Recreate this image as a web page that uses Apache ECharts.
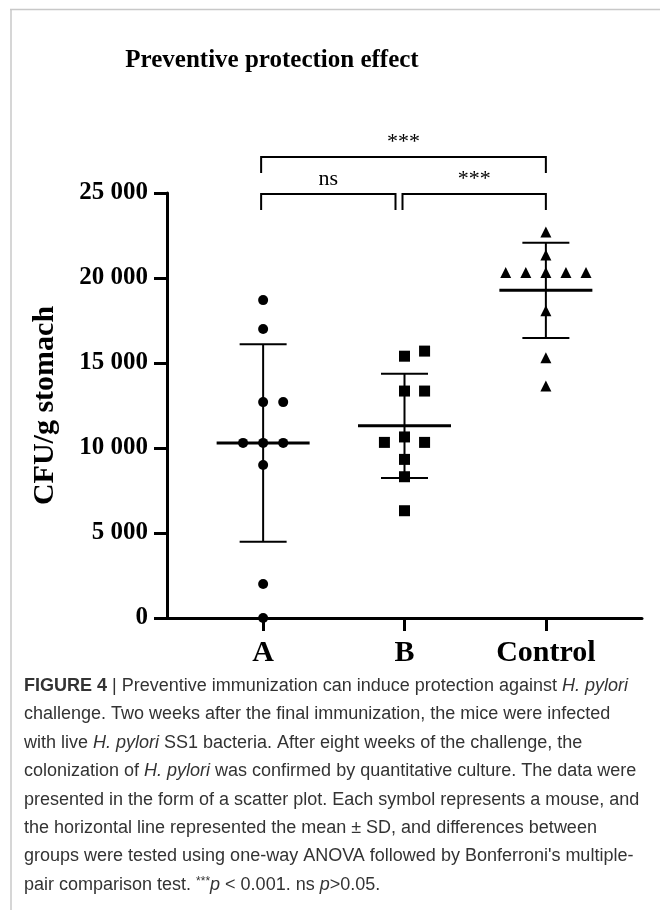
<!DOCTYPE html>
<html>
<head>
<meta charset="utf-8">
<script src="https://cdn.jsdelivr.net/npm/echarts@6/dist/echarts.min.js"></script>
<style>
    html, body { margin: 0; padding: 0; background: #fff; }
    #chart { width: 660px; height: 910px; }
</style>
</head>
<body>
<div id="chart"></div>
<script>
// data
const groups = ["A", "B", "Control"];
const groupA = [18700, 17000, 12700, 12700, 10300, 10300, 10300, 9000, 2000, 0];
const groupB = [15400, 15700, 13350, 13350, 10650, 10330, 10330, 9330, 8310, 6310];
const groupControl = [22700, 21350, 20330, 20330, 20330, 20330, 20330, 18080, 15310, 13650];
const yMin = 0;
const yMax = 25000;
const yStep = 5000;
const brackets = [
    { from: 0, to: 1, label: "ns", row: 0 },
    { from: 1, to: 2, label: "***", row: 0 },
    { from: 0, to: 2, label: "***", row: 1 }
];
const captionLines = [
    "{b|FIGURE 4} | Preventive immunization can induce protection against {i|H. pylori}",
    "challenge. Two weeks after the final immunization, the mice were infected",
    "with live {i|H. pylori} SS1 bacteria. After eight weeks of the challenge, the",
    "colonization of {i|H. pylori} was confirmed by quantitative culture. The data were",
    "presented in the form of a scatter plot. Each symbol represents a mouse, and",
    "the horizontal line represented the mean ± SD, and differences between",
    "groups were tested using one-way ANOVA followed by Bonferroni's multiple-",
    "pair comparison test. {s|***}{i|p} < 0.001. ns {i|p}>0.05."
];

const serif = "Liberation Serif";
const sans = "Liberation Sans";
const jitter = 0.142;

// simple beeswarm: put a point in the first free column of its row
function swarm(values, gi) {
    let placed = [];
    let order = [0, 1, -1, 2, -2, 3, -3];
    return values.map(function(v) {
        let slot = order.find(function(s) {
            return !placed.some(function(p) {
                return p.slot === s && Math.abs(p.v - v) < 600;
            });
        });
        placed.push({ v: v, slot: slot });
        return [gi + slot * jitter, v];
    });
}

function meanSd(values, gi) {
    let n = values.length;
    let m = values.reduce(function(a, b) { return a + b; }, 0) / n;
    let ss = values.reduce(function(a, b) { return a + (b - m) * (b - m); }, 0);
    return [gi, m, Math.sqrt(ss / (n - 1))];
}

function fmt(v) {
    return String(v).replace(/\B(?=(\d{3})+(?!\d))/g, " ");
}

let chart = echarts.init(document.getElementById("chart"));
let allGroups = [groupA, groupB, groupControl];
let symbols = ["circle", "rect", "triangle"];
let sizes = [10, 11, 11];

let series = allGroups.map(function(vals, i) {
    return {
        type: "scatter",
        data: swarm(vals, i),
        symbol: symbols[i],
        symbolSize: sizes[i],
        itemStyle: { color: "#000", opacity: 1 },
        z: 3
    };
});

series.push({
    type: "custom",
    data: allGroups.map(meanSd),
    z: 4,
    renderItem: function(params, api) {
        let x = api.value(0), m = api.value(1), s = api.value(2);
        let c = api.coord([x, m]);
        let top = api.coord([x, m + s])[1];
        let bot = api.coord([x, m - s])[1];
        let st = { stroke: "#000", lineWidth: 2 };
        return {
            type: "group",
            children: [
                { type: "line", shape: { x1: c[0], y1: top, x2: c[0], y2: bot }, style: st },
                { type: "line", shape: { x1: c[0] - 23.5, y1: top, x2: c[0] + 23.5, y2: top }, style: st },
                { type: "line", shape: { x1: c[0] - 23.5, y1: bot, x2: c[0] + 23.5, y2: bot }, style: st },
                { type: "line", shape: { x1: c[0] - 46.5, y1: c[1], x2: c[0] + 46.5, y2: c[1] },
                  style: { stroke: "#000", lineWidth: 3 } }
            ]
        };
    }
});

series.push({
    type: "custom",
    clip: false,
    data: brackets.map(function(b) { return [b.from, b.to, yMax]; }),
    renderItem: function(params, api) {
        let b = brackets[params.dataIndex];
        let y = api.coord([0, yMax])[1] + 1 - b.row * 37;
        let x1 = api.coord([b.from, yMax])[0] - 2;
        let x2 = api.coord([b.to, yMax])[0];
        let shared = brackets.some(function(o) { return o.row === b.row && o.from === b.to; });
        if (shared) x2 -= 9;
        return {
            type: "group",
            children: [
                {
                    type: "polyline",
                    shape: { points: [[x1, y + 16], [x1, y], [x2, y], [x2, y + 16]] },
                    style: { stroke: "#000", lineWidth: 2, fill: null }
                },
                {
                    type: "text",
                    x: (x1 + x2) / 2,
                    y: y - 4,
                    style: {
                        text: b.label,
                        align: "center",
                        verticalAlign: "bottom",
                        font: "22px '" + serif + "'",
                        fill: "#000"
                    }
                }
            ]
        };
    }
});

let graphics = [
    { type: "line", shape: { x1: 10, y1: 9.5, x2: 660, y2: 9.5 }, style: { stroke: "#c8c8c8", lineWidth: 1.5 } },
    { type: "line", shape: { x1: 11, y1: 9, x2: 11, y2: 910 }, style: { stroke: "#c8c8c8", lineWidth: 1.5 } },
    {
        type: "text", x: 272, y: 61,
        style: {
            text: "Preventive protection effect",
            align: "center", verticalAlign: "middle",
            font: "bold 25px '" + serif + "'", fill: "#000"
        }
    }
];
captionLines.forEach(function(line, i) {
    graphics.push({
        type: "text", x: 24, y: 686 + i * 28.4,
        style: {
            text: line,
            verticalAlign: "middle",
            font: "18px '" + sans + "'",
            fill: "#333",
            rich: {
                b: { fontWeight: "bold", fontSize: 18, fontFamily: sans, fill: "#333" },
                i: { fontStyle: "italic", fontSize: 18, fontFamily: sans, fill: "#333" },
                s: { fontSize: 12, fontFamily: sans, fill: "#333", verticalAlign: "top" }
            }
        }
    });
});

let option = {
    animation: false,
    grid: { left: 167, right: 18, top: 193, bottom: 292 },
    xAxis: {
        type: "value",
        min: -0.68,
        max: 2.68,
        splitLine: { show: false },
        axisLine: { onZero: false, lineStyle: { color: "#000", width: 3 } },
        axisTick: { customValues: [0, 1, 2], length: 13, lineStyle: { color: "#000", width: 3 } },
        axisLabel: {
            customValues: [0, 1, 2],
            formatter: function(v) { return groups[Math.round(v)]; },
            margin: 20,
            color: "#000",
            fontFamily: serif,
            fontWeight: "bold",
            fontSize: 30
        }
    },
    yAxis: {
        type: "value",
        min: yMin,
        max: yMax,
        interval: yStep,
        name: "CFU/g stomach",
        nameLocation: "middle",
        nameGap: 107,
        nameTextStyle: { color: "#000", fontFamily: serif, fontWeight: "bold", fontSize: 30 },
        splitLine: { show: false },
        axisLine: { show: true, onZero: false, lineStyle: { color: "#000", width: 3 } },
        axisTick: { show: true, length: 13, lineStyle: { color: "#000", width: 3 } },
        axisLabel: {
            formatter: fmt,
            margin: 19,
            color: "#000",
            fontFamily: serif,
            fontWeight: "bold",
            fontSize: 25
        }
    },
    graphic: graphics,
    series: series
};
chart.setOption(option);
</script>
</body>
</html>
